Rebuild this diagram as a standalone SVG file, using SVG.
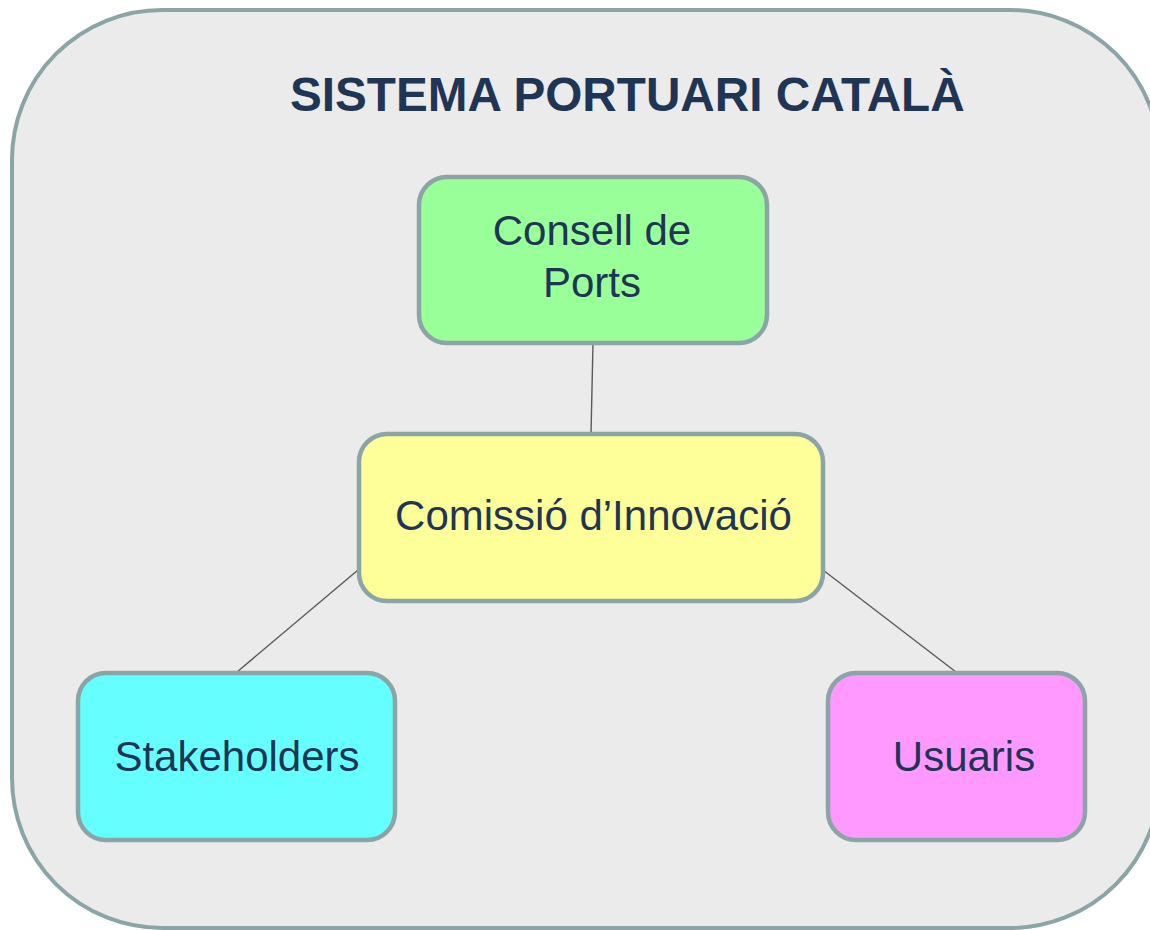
<svg xmlns="http://www.w3.org/2000/svg" width="1150" height="930" viewBox="0 0 1150 930">
<style>
.frame{fill:#EBEBEB;stroke:#8BA5A7;stroke-width:4}
.box{stroke:#8BA5A7;stroke-width:4.5}
.lbl{font-family:"Liberation Sans",Arial,sans-serif;font-size:42px;fill:#1F3556;text-anchor:middle}
.title{font-family:"Liberation Sans",Arial,sans-serif;font-size:47.7px;font-weight:bold;fill:#1F3556}
.conn{stroke:#5A5A5A;stroke-width:1.4;fill:none}
</style>
<rect class="frame" x="12" y="10" width="1148" height="918" rx="150" ry="150"/>
<text class="title" x="290" y="111">SISTEMA PORTUARI CATALÀ</text>
<g id="connectors">
<line class="conn" x1="593" y1="343" x2="591" y2="434"/>
<line class="conn" x1="358" y1="570" x2="237" y2="672"/>
<line class="conn" x1="823" y1="570" x2="956" y2="672"/>
</g>
<g id="consell">
<rect class="box" x="419" y="177" width="348" height="166" rx="28" fill="#99FF99"/>
<text class="lbl" x="592" y="245">Consell de</text>
<text class="lbl" x="592" y="297">Ports</text>
</g>
<g id="comissio">
<rect class="box" x="359" y="434" width="464" height="167" rx="28" fill="#FFFF99"/>
<text class="lbl" x="593.5" y="530">Comissió d’Innovació</text>
</g>
<g id="stakeholders">
<rect class="box" x="78" y="673" width="317" height="167" rx="28" fill="#66FFFF"/>
<text class="lbl" x="237" y="771">Stakeholders</text>
</g>
<g id="usuaris">
<rect class="box" x="828" y="673" width="257" height="167" rx="28" fill="#FF99FF"/>
<text class="lbl" x="964" y="771">Usuaris</text>
</g>
</svg>
